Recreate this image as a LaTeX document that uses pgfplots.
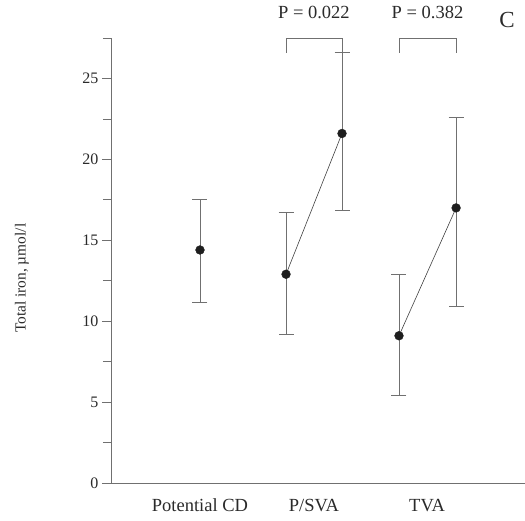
\documentclass[border=0pt]{standalone}
\usepackage{pgfplots}
\pgfplotsset{compat=1.18}
\usepackage{fontspec}
\setmainfont{Liberation Serif}
\definecolor{axgray}{HTML}{707070}
\definecolor{txt}{HTML}{2A2A2A}
\definecolor{dot}{HTML}{1E1E1E}
\newcommand\tfont{\fontsize{16bp}{19bp}\selectfont}
\newcommand\lfont{\fontsize{18.5bp}{22bp}\selectfont}
\begin{document}
\begin{tikzpicture}
\path[use as bounding box] (-111bp,-38bp) rectangle (414bp,483bp);
\begin{axis}[
  at={(0,0)}, anchor=south west,
  scale only axis, width=414bp, height=445bp,
  xmin=0.216, xmax=3.863, ymin=0, ymax=27.5,
  axis x line=bottom, axis y line=left,
  axis line style={draw=axgray, line width=0.8bp, -},
  xtick=\empty,
  ytick={0,5,...,25}, minor ytick={2.5,7.5,...,27.5},
  tick align=outside,
  major tick length=9bp, minor tick length=8bp,
  y tick style={draw=axgray, line width=0.8bp},
  tick label style={font=\tfont, text=txt},
  /pgf/number format/assume math mode=true,
  ylabel={Total iron, µmol/l},
  ylabel style={font=\fontsize{15.4bp}{18bp}\selectfont, text=txt, at={(axis description cs:-0.215,0.46)}, anchor=center, rotate=0},
  clip=false,
]
% connecting lines
\addplot[draw=dot!85, line width=0.6bp] coordinates {(1.758,12.9) (2.251,21.6)};
\addplot[draw=dot!85, line width=0.6bp] coordinates {(2.753,9.1) (3.256,17.0)};
% points with asymmetric error bars
\addplot[only marks, mark=*, mark size=4.4bp, mark options={fill=dot, draw=dot},
  error bars/.cd, y dir=both, y explicit,
  error bar style={draw=axgray, line width=0.8bp},
  error mark options={rotate=90, mark size=7.5bp, draw=axgray, line width=0.8bp}]
  table[x=x, y=y, y error plus=ep, y error minus=em] {
x      y     ep    em
1      14.4  3.1   3.25
1.758  12.9  3.8   3.7
2.251  21.6  5.0   4.75
2.753  9.1   3.8   3.7
3.256  17.0  5.6   6.1
};
% category labels
\node[font=\lfont, text=txt, anchor=base] at ([yshift=-28bp]axis cs:1,0) {Potential CD};
\node[font=\lfont, text=txt, anchor=base] at ([yshift=-28bp]axis cs:2.004,0) {P/SVA};
\node[font=\lfont, text=txt, anchor=base] at ([yshift=-28bp]axis cs:3.0,0) {TVA};
% brackets
\draw[axgray, line width=0.8bp] (axis cs:1.758,26.6) -- (axis cs:1.758,27.5) -- (axis cs:2.251,27.5) -- (axis cs:2.251,26.6);
\draw[axgray, line width=0.8bp] (axis cs:2.753,26.6) -- (axis cs:2.753,27.5) -- (axis cs:3.256,27.5) -- (axis cs:3.256,26.6);
\node[font=\lfont, text=txt, anchor=base] at (axis cs:2.004,28.7) {P = 0.022};
\node[font=\lfont, text=txt, anchor=base] at (axis cs:3.004,28.7) {P = 0.382};
\node[font=\fontsize{23bp}{26bp}\selectfont, text=txt, anchor=base] at (axis cs:3.705,28.15) {C};
\end{axis}
\end{tikzpicture}
\end{document}
